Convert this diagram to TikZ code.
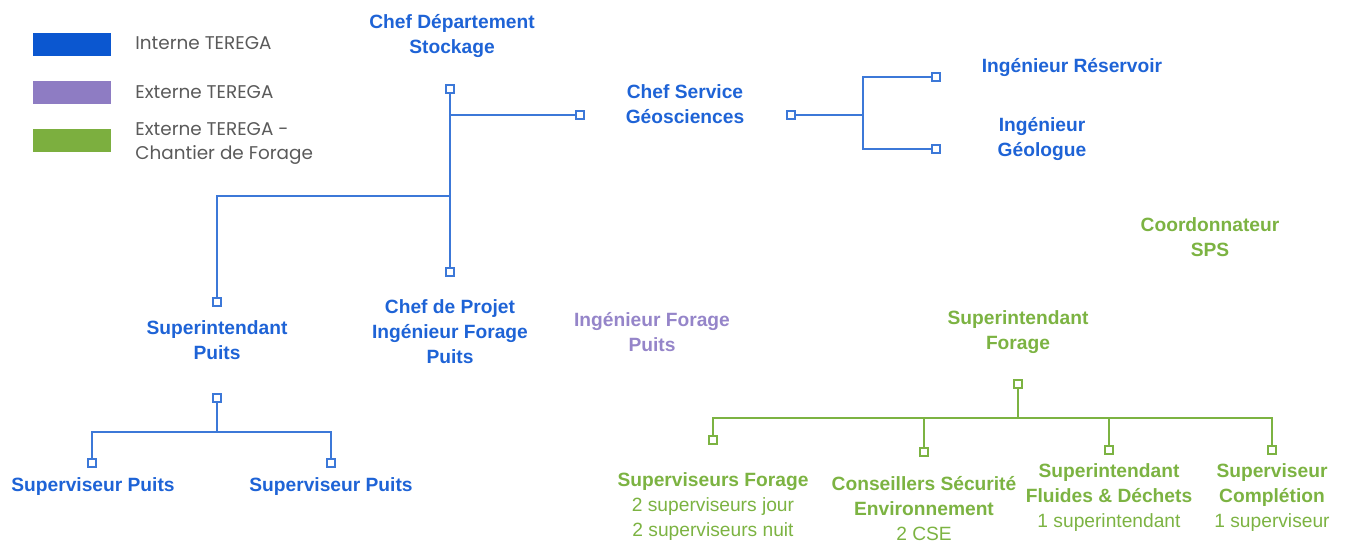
\documentclass[tikz,border=0pt]{standalone}
\usepackage{fontspec}
\setmainfont{Liberation Sans}
\newfontfamily\legendfont{Poppins}

\definecolor{blueline}{HTML}{3C78D8}
\definecolor{bluetext}{HTML}{1E63D6}
\definecolor{blueswatch}{HTML}{0B57D0}
\definecolor{purpleswatch}{HTML}{8E7CC3}
\definecolor{purpletext}{HTML}{9585C9}
\definecolor{greenswatch}{HTML}{7CAF3F}
\definecolor{greentext}{HTML}{7CB342}
\definecolor{legendgray}{HTML}{5A5A5A}

\tikzset{
  role/.style={align=center, font=\bfseries\fontsize{9.6}{12.5}\selectfont, inner sep=0pt},
  pin/.style={draw, fill=white, line width=0.75pt, minimum size=4pt, inner sep=0pt},
  link/.style={line width=0.75pt},
  swatch/.style={minimum width=39pt, minimum height=11.5pt, inner sep=0pt},
  legendtext/.style={anchor=west, align=left, text=legendgray, inner sep=0pt,
    font=\legendfont\fontsize{9.2}{12}\selectfont}
}

\begin{document}
\begin{tikzpicture}[x=0.5pt, y=-0.5pt]
  \useasboundingbox (0, 0) rectangle (1345, 543);

  % legend
  \node (swBlue) at (72, 44) [swatch, fill=blueswatch]{};
  \node (swPurple) at (72, 92) [swatch, fill=purpleswatch]{};
  \node (swGreen) at (72, 140) [swatch, fill=greenswatch]{};
  \node (lgBlue) at (135, 43) [legendtext]{Interne TEREGA};
  \node (lgPurple) at (135, 92) [legendtext]{Externe TEREGA};
  \node (lgGreen) at (135, 143) [legendtext]{Externe TEREGA -\\Chantier de Forage};

  % blue part
  \node (dep) at (452, 36) [role, text=bluetext]{Chef Département\\Stockage};
  \node (geo) at (685, 104) [role, text=bluetext]{Chef Service\\Géosciences};
  \node (res) at (1072, 67) [role, text=bluetext]{Ingénieur Réservoir};
  \node (geol) at (1042, 139) [role, text=bluetext]{Ingénieur\\Géologue};
  \node (supP) at (217, 340) [role, text=bluetext]{Superintendant\\Puits};
  \node (proj) at (450, 332) [role, text=bluetext]{Chef de Projet\\Ingénieur Forage\\Puits};
  \node (sv1) at (93, 487) [role, text=bluetext]{Superviseur Puits};
  \node (sv2) at (331, 487) [role, text=bluetext]{Superviseur Puits};

  \begin{scope}[draw=blueline, link]
    \node (sqDep) at (450, 89) [pin]{};
    \node (sqGeoIn) at (580, 115) [pin]{};
    \node (sqProj) at (450, 272) [pin]{};
    \node (sqSup) at (217, 302) [pin]{};
    \node (sqGeo) at (791, 115) [pin]{};
    \node (sqRes) at (936, 77) [pin]{};
    \node (sqGeol) at (936, 149) [pin]{};
    \node (sqSupB) at (217, 398) [pin]{};
    \node (sqSv1) at (92, 463) [pin]{};
    \node (sqSv2) at (331, 463) [pin]{};
    \coordinate (jPuits) at (450, 196);
    \coordinate (jGeo) at (863, 115);
    \coordinate (jSup) at (217, 432);

    \draw (sqDep) -- (sqProj);
    \draw (sqDep |- sqGeoIn) -- (sqGeoIn);
    \draw (jPuits) -| (sqSup);
    \draw (sqGeo) -- (jGeo);
    \draw (sqRes) -| (jGeo) |- (sqGeol);
    \draw (sqSupB) -- (jSup);
    \draw (sqSv1) |- (jSup) -| (sqSv2);
  \end{scope}

  % purple
  \node (ingF) at (652, 332) [role, text=purpletext]{Ingénieur Forage\\Puits};

  % green part
  \node (sps) at (1210, 237) [role, text=greentext]{Coordonnateur\\SPS};
  \node (supF) at (1018, 332) [role, text=greentext]{Superintendant\\Forage};
  \node (f1) at (713, 507) [role, text=greentext]{Superviseurs Forage\\{\mdseries 2 superviseurs jour}\\{\mdseries 2 superviseurs nuit}};
  \node (f2) at (924, 509) [role, text=greentext]{Conseillers Sécurité\\Environnement\\{\mdseries 2 CSE}};
  \node (f3) at (1109, 498) [role, text=greentext]{Superintendant\\Fluides \& Déchets\\{\mdseries 1 superintendant}};
  \node (f4) at (1272, 498) [role, text=greentext]{Superviseur\\Complétion\\{\mdseries 1 superviseur}};

  \begin{scope}[draw=greentext, link]
    \node (sqFor) at (1018, 384) [pin]{};
    \node (sqF1) at (713, 440) [pin]{};
    \node (sqF2) at (924, 452) [pin]{};
    \node (sqF3) at (1109, 450) [pin]{};
    \node (sqF4) at (1272, 450) [pin]{};
    \coordinate (jFor) at (1018, 418);

    \draw (sqFor) -- (jFor);
    \draw (sqF1) |- (jFor) -| (sqF4);
    \draw (jFor -| sqF2) -- (sqF2);
    \draw (jFor -| sqF3) -- (sqF3);
  \end{scope}
\end{tikzpicture}
\end{document}
